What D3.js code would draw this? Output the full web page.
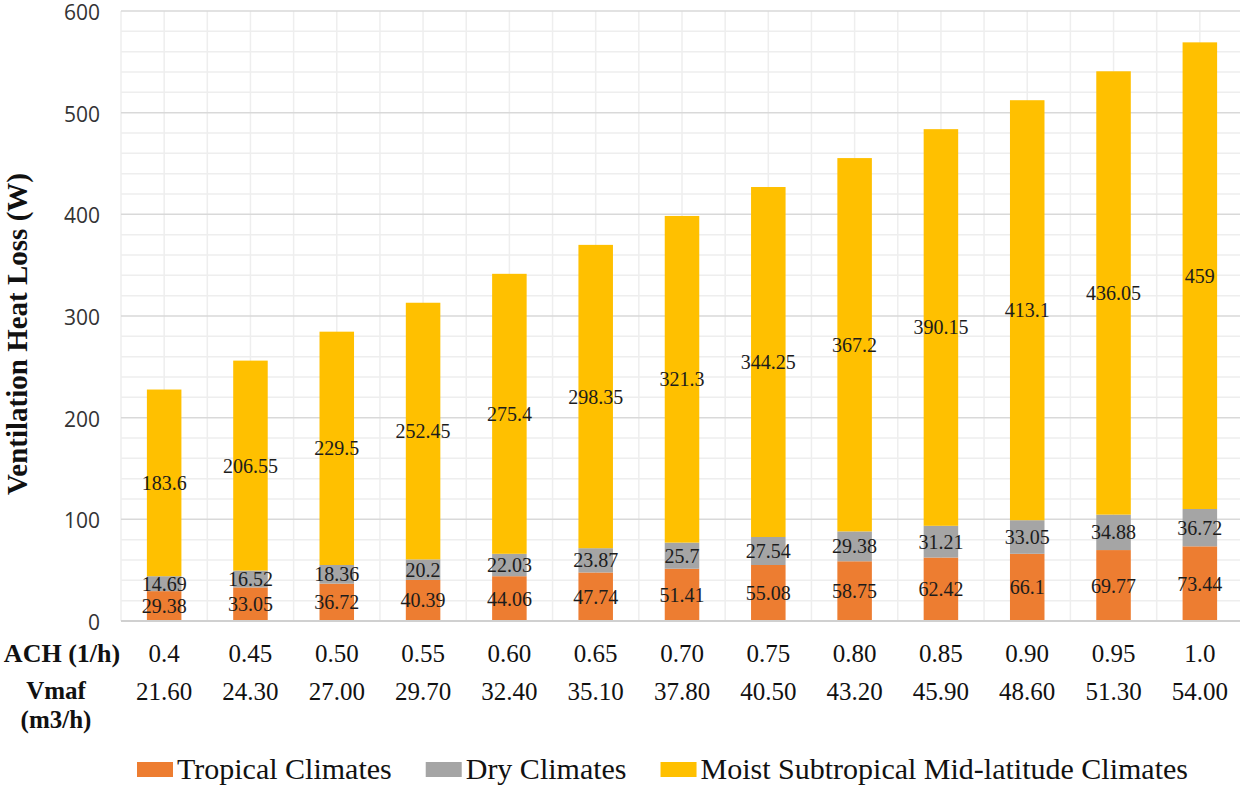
<!DOCTYPE html>
<html>
<head>
<meta charset="utf-8">
<script src="https://cdn.jsdelivr.net/npm/d3@7"></script>
<style>
  html, body { margin: 0; padding: 0; background: #fff; }
  svg { display: block; }
</style>
</head>
<body>
<svg id="chart" width="1240" height="787"></svg>
<script>
// Air changes per hour and the matching ventilation air flow
const achLabels = ["0.4", "0.45", "0.50", "0.55", "0.60", "0.65", "0.70", "0.75", "0.80", "0.85", "0.90", "0.95", "1.0"];
const vmafLabels = ["21.60", "24.30", "27.00", "29.70", "32.40", "35.10", "37.80", "40.50", "43.20", "45.90", "48.60", "51.30", "54.00"];

// Ventilation heat loss (W) per climate group
const tropical = [29.38, 33.05, 36.72, 40.39, 44.06, 47.74, 51.41, 55.08, 58.75, 62.42, 66.1, 69.77, 73.44];
const dry = [14.69, 16.52, 18.36, 20.2, 22.03, 23.87, 25.7, 27.54, 29.38, 31.21, 33.05, 34.88, 36.72];
const moist = [183.6, 206.55, 229.5, 252.45, 275.4, 298.35, 321.3, 344.25, 367.2, 390.15, 413.1, 436.05, 459];

const seriesNames = ["Tropical Climates", "Dry Climates", "Moist Subtropical Mid-latitude Climates"];
const seriesColors = ["#ED7D31", "#A5A5A5", "#FFC000"];
const yTicks = [0, 100, 200, 300, 400, 500, 600];

const serif = "'Liberation Serif', 'Times New Roman', serif";
const sans = "'Open Sans', 'Noto Sans', sans-serif";

const svg = d3.select("#chart");

const rows = achLabels.map((a, i) => ({ ach: a, vmaf: vmafLabels[i], tropical: tropical[i], dry: dry[i], moist: moist[i] }));
const keys = ["tropical", "dry", "moist"];
const stacked = d3.stack().keys(keys)(rows);

const x = d3.scaleBand().domain(achLabels).range([121, 1243]).padding(0);
const y = d3.scaleLinear().domain([0, 600]).range([621, 11]);
const bw = x.bandwidth();
const barW = bw * 0.4;

// Grid: minor lines every 20, major every 100, verticals every half category
const grid = svg.append("g");
const minor = d3.range(20, 600, 20).filter(v => v % 100 !== 0);
grid.selectAll("line.hminor").data(minor).join("line")
  .attr("x1", 121).attr("x2", 1240)
  .attr("y1", d => y(d)).attr("y2", d => y(d))
  .attr("stroke", "#eeeeee").attr("stroke-width", 1.5);
const halfSteps = d3.range(0, achLabels.length * 2 + 1).map(k => 121 + k * bw / 2);
grid.selectAll("line.v").data(halfSteps).join("line")
  .attr("x1", d => d).attr("x2", d => d)
  .attr("y1", y(600)).attr("y2", y(0))
  .attr("stroke", "#eeeeee").attr("stroke-width", 1.5);
grid.selectAll("line.hmajor").data(yTicks.filter(v => v > 0)).join("line")
  .attr("x1", 121).attr("x2", 1240)
  .attr("y1", d => y(d)).attr("y2", d => y(d))
  .attr("stroke", "#d9d9d9").attr("stroke-width", 1.5);

// Stacked bars
const layers = svg.append("g").selectAll("g").data(stacked).join("g")
  .attr("fill", (d, i) => seriesColors[i]);
layers.selectAll("rect").data(d => d).join("rect")
  .attr("x", d => x(d.data.ach) + (bw - barW) / 2)
  .attr("width", barW)
  .attr("y", d => y(d[1]))
  .attr("height", d => y(d[0]) - y(d[1]));

// Baseline
svg.append("line")
  .attr("x1", 121).attr("x2", 1240)
  .attr("y1", y(0)).attr("y2", y(0))
  .attr("stroke", "#d0d0d0").attr("stroke-width", 2);

// Value labels centred in each segment
const labels = svg.append("g")
  .attr("font-family", serif).attr("font-size", 20).attr("fill", "#1c1c1c")
  .attr("text-anchor", "middle");
stacked.forEach((layer, li) => {
  labels.selectAll(null).data(layer).join("text")
    .attr("x", d => x(d.data.ach) + bw / 2)
    .attr("y", d => (y(d[0]) + y(d[1])) / 2)
    .attr("dy", "0.35em")
    .text(d => d.data[keys[li]]);
});

// Y axis
const yAxis = svg.append("g")
  .attr("transform", "translate(100,0)")
  .call(d3.axisLeft(y).tickValues(yTicks).tickSize(0).tickPadding(0));
yAxis.select(".domain").remove();
yAxis.selectAll("text")
  .attr("font-family", sans).attr("font-size", 21).attr("fill", "#333")
  .attr("dy", "0.4em");

svg.append("text")
  .attr("transform", "translate(27,334) rotate(-90)")
  .attr("text-anchor", "middle")
  .attr("font-family", serif).attr("font-weight", "bold").attr("font-size", 29)
  .attr("fill", "#111")
  .text("Ventilation Heat Loss (W)");

// Category rows: ACH and Vmaf
const achAxis = svg.append("g")
  .attr("transform", "translate(0,641)")
  .call(d3.axisBottom(x).tickSize(0).tickPadding(0));
achAxis.select(".domain").remove();
achAxis.selectAll("text")
  .attr("font-family", serif).attr("font-size", 25).attr("fill", "#111")
  .attr("y", 21).attr("dy", 0);

const vmafAxis = svg.append("g")
  .attr("transform", "translate(0,679)")
  .call(d3.axisBottom(x).tickSize(0).tickPadding(0).tickFormat((d, i) => vmafLabels[i]));
vmafAxis.select(".domain").remove();
vmafAxis.selectAll("text")
  .attr("font-family", serif).attr("font-size", 25).attr("fill", "#111")
  .attr("y", 21).attr("dy", 0);

const rowTitles = svg.append("g")
  .attr("font-family", serif).attr("font-weight", "bold")
  .attr("fill", "#111").attr("text-anchor", "middle");
rowTitles.append("text").attr("x", 62).attr("y", 662).attr("font-size", 26).text("ACH (1/h)");
rowTitles.append("text").attr("x", 56).attr("y", 699).attr("font-size", 25).text("Vmaf");
rowTitles.append("text").attr("x", 56).attr("y", 728).attr("font-size", 25).text("(m3/h)");

// Legend
const legend = svg.append("g").attr("font-family", serif).attr("font-size", 30).attr("fill", "#111");
let lx = 137;
seriesNames.forEach((name, i) => {
  legend.append("rect")
    .attr("x", lx).attr("y", 762).attr("width", 36).attr("height", 15)
    .attr("fill", seriesColors[i]);
  const t = legend.append("text")
    .attr("x", lx + 40).attr("y", 779).text(name);
  lx += 40 + t.node().getComputedTextLength() + 34;
});
</script>
</body>
</html>
